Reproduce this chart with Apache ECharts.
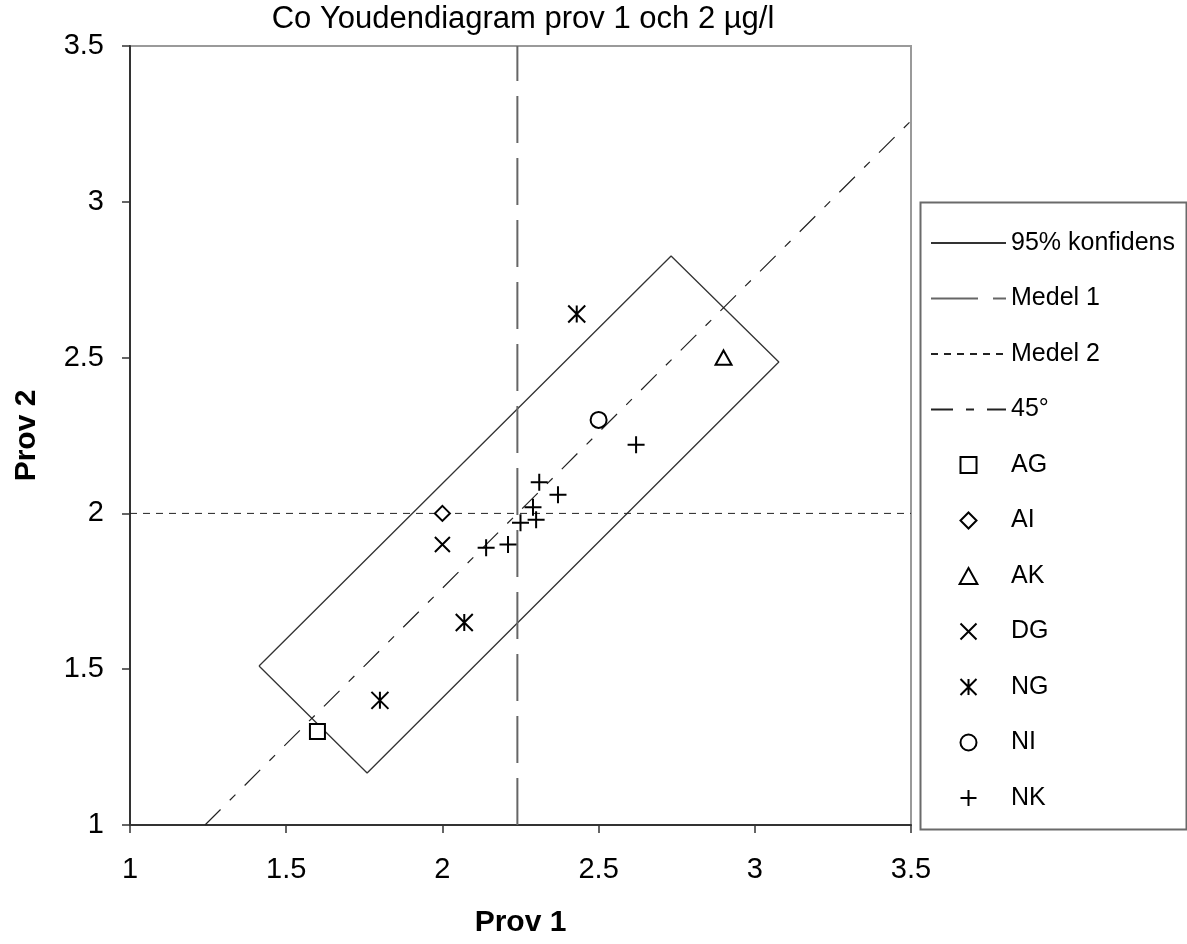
<!DOCTYPE html>
<html>
<head>
<meta charset="utf-8">
<script src="https://cdn.jsdelivr.net/npm/echarts@6/dist/echarts.min.js"></script>
<style>
  html, body { margin: 0; padding: 0; background: #ffffff; }
  #chart { width: 1187px; height: 944px; }
</style>
</head>
<body>
<div id="chart"></div>
<script>
// Youden plot: sample 1 (x) vs sample 2 (y), Co in µg/l
const chartTitle = 'Co Youdendiagram prov 1 och 2 µg/l';
const xName = 'Prov 1';
const yName = 'Prov 2';
const axisMin = 1;
const axisMax = 3.5;
const axisStep = 0.5;

// reference lines
const medel1 = 2.24;            // mean of sample 1
const medel2 = 2.0;             // mean of sample 2
const line45X = [1.24, 3.54];   // 45° line through (medel1, medel2)
const line45Y = [1.00, 3.30];

// 95 % confidence rectangle (closed polygon)
const confX = [1.413, 2.732, 3.077, 1.759, 1.413];
const confY = [1.510, 2.826, 2.486, 1.167, 1.510];

// laboratory groups: [prov 1, prov 2]
const labAG = [[1.60, 1.30]];
const labAI = [[2.00, 2.00]];
const labAK = [[2.90, 2.50]];
const labDG = [[2.00, 1.90]];
const labNG = [[1.80, 1.40], [2.07, 1.65], [2.43, 2.64]];
const labNI = [[2.50, 2.30]];
const labNK = [[2.62, 2.22], [2.31, 2.10], [2.37, 2.06], [2.29, 2.02],
               [2.30, 1.98], [2.25, 1.97], [2.14, 1.89], [2.21, 1.90]];

const names = ['95% konfidens', 'Medel 1', 'Medel 2', '45°', 'AG', 'AI', 'AK', 'DG', 'NG', 'NI', 'NK'];

const FONT = '"Liberation Sans", Arial, sans-serif';

const sym = {
  square:   'path://M0,0L10,0L10,10L0,10Z',
  diamond:  'path://M5,0L10,5L5,10L0,5Z',
  triangle: 'path://M5,0L10,9L0,9Z',
  cross:    'path://M0,0L10,10M10,0L0,10',
  star:     'path://M0,0L10,10M10,0L0,10M5,0L5,10',
  circle:   'path://M5,0A5,5 0 1,1 5,10A5,5 0 1,1 5,0Z',
  plus:     'path://M5,0L5,10M0,5L10,5'
};

function zip(xs, ys) { return xs.map((x, i) => [x, ys[i]]); }

function lineSeries(name, data, style) {
  return {
    name: name,
    type: 'line',
    data: data,
    symbol: 'none',
    showSymbol: false,
    silent: true,
    clip: false,
    lineStyle: style,
    // no marker for the line entries (keeps the legend sample a plain line)
    itemStyle: { color: 'rgba(0,0,0,0)', borderWidth: 0 },
    z: 2
  };
}

function markerSeries(name, data, symbol, size) {
  return {
    name: name,
    type: 'scatter',
    data: data,
    symbol: symbol,
    symbolSize: size,
    symbolKeepAspect: true,
    itemStyle: { color: '#ffffff', borderColor: '#000000', borderWidth: 2, opacity: 1 },
    z: 5
  };
}

const chart = echarts.init(document.getElementById('chart'), null, { renderer: 'canvas' });

const option = {
  animation: false,
  backgroundColor: '#ffffff',
  title: {
    text: chartTitle,
    left: 523,
    top: 4,
    padding: 0,
    textAlign: 'center',
    textStyle: { fontFamily: FONT, fontSize: 31, fontWeight: 'normal', color: '#000' }
  },
  grid: {
    left: 130, top: 46, right: 276, bottom: 119,
    show: true, borderColor: '#9a9a9a', borderWidth: 2, backgroundColor: 'transparent'
  },
  legend: {
    orient: 'vertical',
    left: 930,
    top: 230,
    padding: 0,
    itemWidth: 75,
    itemHeight: 16,
    itemGap: 29.5,
    symbolKeepAspect: true,
    selectedMode: false,
    data: names,
    textStyle: { fontFamily: FONT, fontSize: 25, color: '#000', lineHeight: 26 }
  },
  xAxis: {
    type: 'value',
    min: axisMin, max: axisMax, interval: axisStep,
    name: xName,
    nameLocation: 'middle',
    nameGap: 83,
    nameTextStyle: { fontFamily: FONT, fontSize: 30, fontWeight: 'bold', color: '#000' },
    axisLine: { show: true, onZero: false, lineStyle: { color: '#333', width: 2 } },
    axisTick: { show: true, inside: false, length: 8, lineStyle: { color: '#333', width: 1.5 } },
    axisLabel: { fontFamily: FONT, fontSize: 29, color: '#000', margin: 30 },
    splitLine: { show: false }
  },
  yAxis: {
    type: 'value',
    min: axisMin, max: axisMax, interval: axisStep,
    name: yName,
    nameLocation: 'middle',
    nameGap: 88,
    nameRotate: 90,
    nameTextStyle: { fontFamily: FONT, fontSize: 30, fontWeight: 'bold', color: '#000' },
    axisLine: { show: true, onZero: false, lineStyle: { color: '#333', width: 2 } },
    axisTick: { show: true, inside: false, length: 8, lineStyle: { color: '#333', width: 1.5 } },
    axisLabel: { fontFamily: FONT, fontSize: 29, color: '#000', margin: 26 },
    splitLine: { show: false }
  },
  graphic: [{
    type: 'rect',
    left: 918, top: 200,
    shape: { width: 266, height: 627 },
    style: { fill: 'none', stroke: '#6a6a6a', lineWidth: 2 },
    silent: true,
    z: -1
  }],
  series: [
    lineSeries(names[0], zip(confX, confY), { color: '#333', width: 1.3, type: 'solid' }),
    lineSeries(names[1], [[medel1, axisMin], [medel1, axisMax]], { color: '#666', width: 2, type: [47, 15] }),
    lineSeries(names[2], [[axisMin, medel2], [axisMax, medel2]], { color: '#222', width: 1, type: [7, 6] }),
    lineSeries(names[3], zip(line45X, line45Y), { color: '#222', width: 1.2, type: [22, 13, 8, 13] }),
    markerSeries(names[4], labAG, sym.square, 15),
    markerSeries(names[5], labAI, sym.diamond, 15),
    markerSeries(names[6], labAK, sym.triangle, 16),
    markerSeries(names[7], labDG, sym.cross, 15),
    markerSeries(names[8], labNG, sym.star, 17),
    markerSeries(names[9], labNI, sym.circle, 16),
    markerSeries(names[10], labNK, sym.plus, 17)
  ]
};

chart.setOption(option);
</script>
</body>
</html>
